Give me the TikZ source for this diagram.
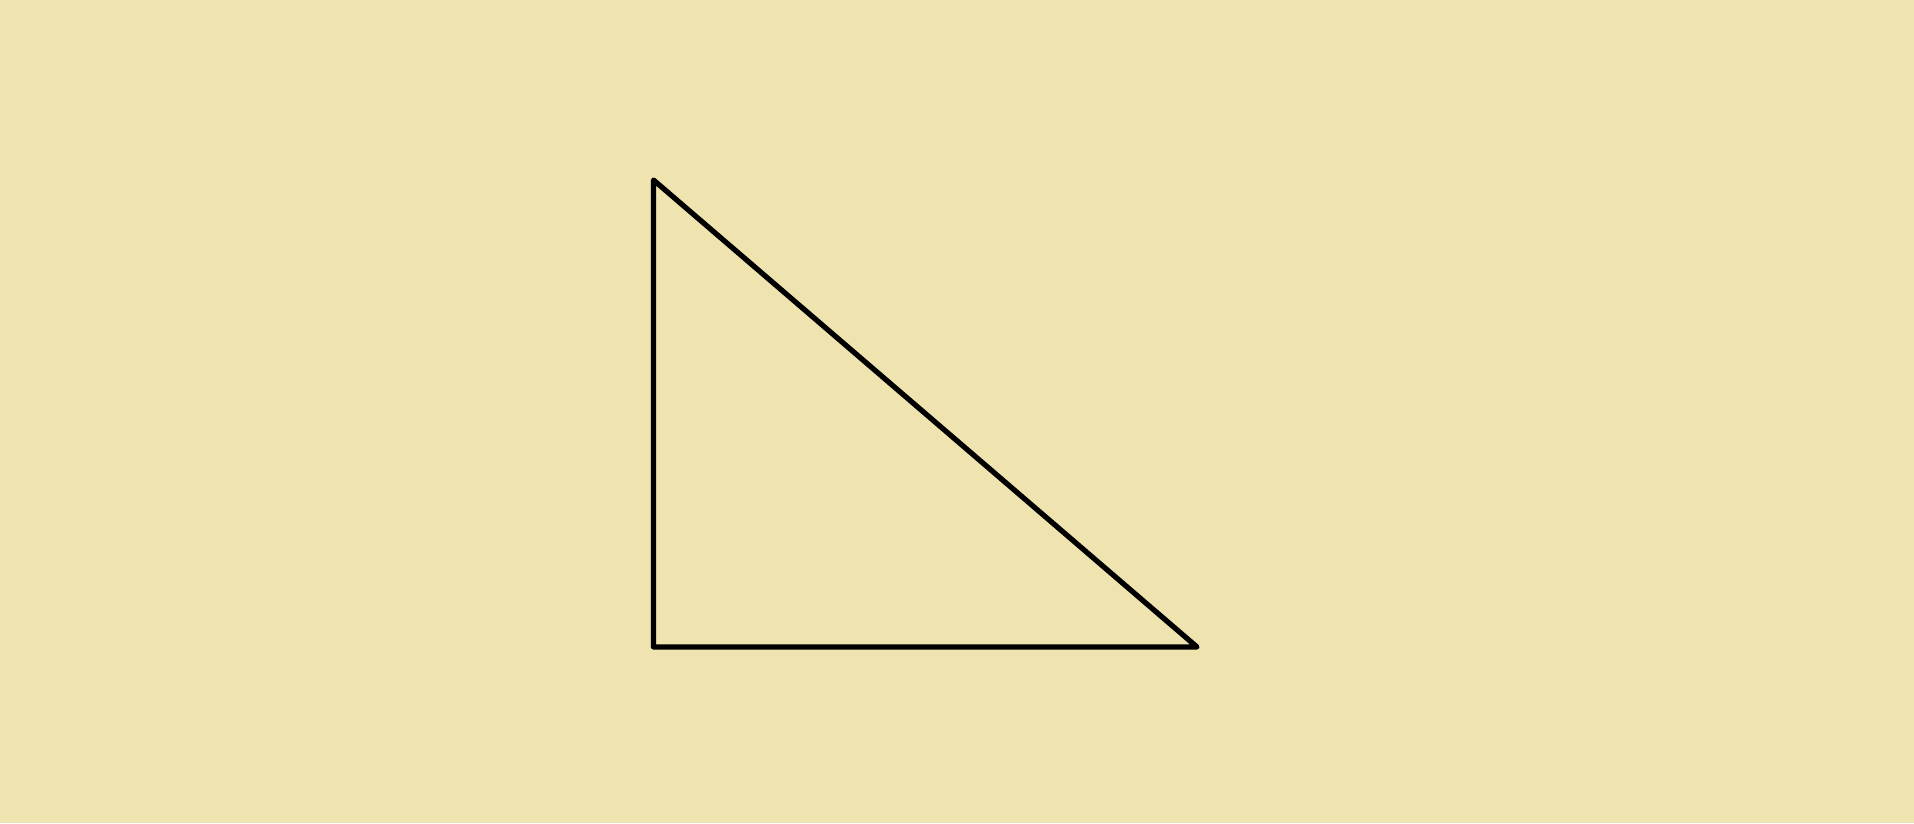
\documentclass[tikz,border=0pt]{standalone}
\definecolor{bgbeige}{RGB}{239,228,176}
\begin{document}
\begin{tikzpicture}[x=0.01cm,y=-0.01cm,edge/.style={draw=black,line width=1.5pt,line join=round}]
\fill[bgbeige] (0,0) rectangle (1914,823);
\useasboundingbox (0,0) rectangle (1914,823);
\coordinate (A) at (653.5,180);
\coordinate (B) at (653.5,647);
\coordinate (C) at (1197,647);
\draw[edge] (A) -- (B) -- (C) -- cycle;
\end{tikzpicture}
\end{document}
